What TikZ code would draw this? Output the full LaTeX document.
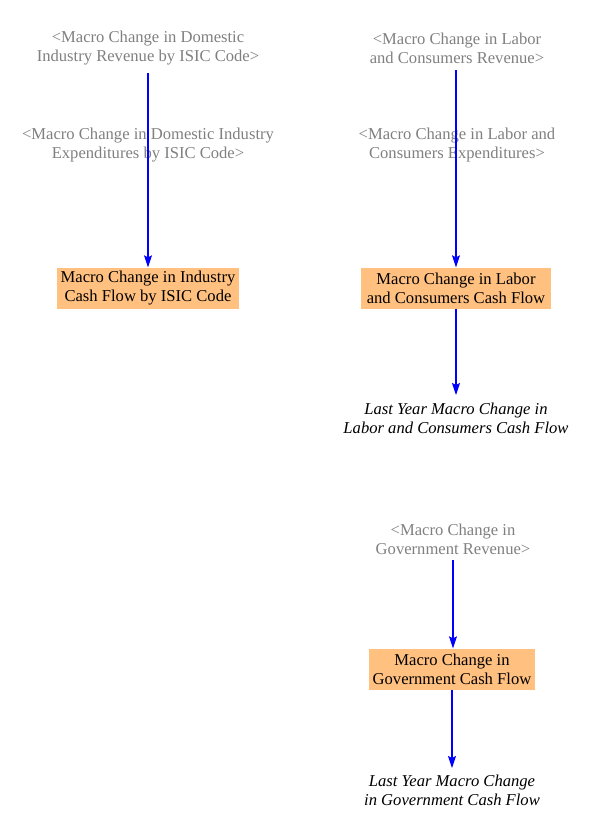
\documentclass[tikz,border=0pt]{standalone}
\usepackage{fontspec}
\setmainfont{Liberation Serif}
\usetikzlibrary{arrows.meta}
\definecolor{boxfill}{HTML}{FFC080}
\definecolor{shadowtxt}{HTML}{808080}
\definecolor{linkblue}{HTML}{0000FF}
\begin{document}
\begin{tikzpicture}[x=1pt,y=-1pt,
  every node/.style={font=\fontsize{16.6}{19}\selectfont, align=center, inner sep=0pt},
  shadowvar/.style={text=shadowtxt},
  auxbox/.style={fill=boxfill, minimum height=41pt, inner xsep=3pt},
  lastyear/.style={font=\fontsize{16.6}{19}\selectfont\itshape},
  link/.style={draw=linkblue, line width=1.1pt, -{Stealth[length=12pt,width=8pt,inset=2pt]}}]
\useasboundingbox (0,0) rectangle (594,823);
% column 1
\node[shadowvar] (rev1) at (148,48) {<Macro Change in Domestic\\Industry Revenue by ISIC Code>};
\node[shadowvar] (exp1) at (148,145) {<Macro Change in Domestic Industry\\Expenditures by ISIC Code>};
\node[auxbox, minimum width=182pt] (cf1) at (148,288) {Macro Change in Industry\\Cash Flow by ISIC Code};
% column 2
\node[shadowvar] (rev2) at (457,48) {<Macro Change in Labor\\and Consumers Revenue>};
\node[shadowvar] (exp2) at (457,145) {<Macro Change in Labor and\\Consumers Expenditures>};
\node[auxbox, minimum width=190pt] (cf2) at (456,288) {Macro Change in Labor\\and Consumers Cash Flow};
\node[lastyear] (ly1) at (456,418) {Last Year Macro Change in\\Labor and Consumers Cash Flow};
% government
\node[shadowvar] (rev3) at (453,539) {<Macro Change in\\Government Revenue>};
\node[auxbox, minimum width=166pt] (cf3) at (452,669) {Macro Change in\\Government Cash Flow};
\node[lastyear] (ly2) at (452,790) {Last Year Macro Change\\in Government Cash Flow};
% links
\coordinate (s1) at (148,73);
\coordinate (s2) at (456,70);
\coordinate (s3) at (453,560);
\coordinate (e1) at (456,395);
\coordinate (e2) at (452,768);
\draw[link] (s1) -- (cf1.north -| s1);
\draw[link] (s2) -- (cf2.north -| s2);
\draw[link] (cf2.south) -- (e1);
\draw[link] (s3) -- (cf3.north -| s3);
\draw[link] (cf3.south) -- (e2);
\end{tikzpicture}
\end{document}
